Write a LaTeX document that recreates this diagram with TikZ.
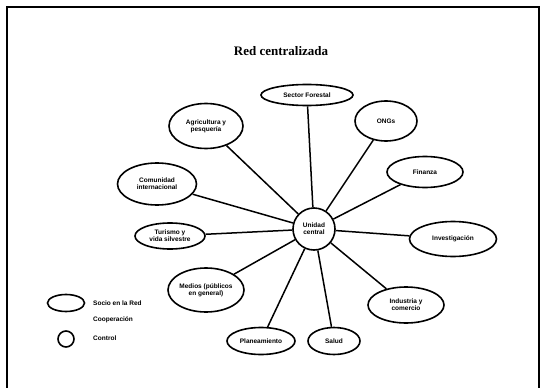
\documentclass[tikz,border=0pt]{standalone}
\usepackage{fontspec}
\setmainfont{Liberation Sans}
\newfontfamily\titlefont{Liberation Serif}
\usetikzlibrary{shapes.geometric}
\begin{document}
\begin{tikzpicture}[x=1pt,y=-1pt,
  partner/.style={draw,ellipse,line width=1.6pt,inner sep=0pt,align=center,
    font=\fontsize{6.5}{7.2}\selectfont\bfseries},
  hub/.style={draw,circle,line width=1.6pt,inner sep=0pt,minimum size=42pt,align=center,
    font=\fontsize{6.5}{7.2}\selectfont\bfseries},
  link/.style={line width=1.5pt},
  legendtext/.style={anchor=west,inner sep=0pt,font=\fontsize{6.5}{7.2}\selectfont\bfseries}]
\useasboundingbox (0,0) rectangle (541,388);
% open frame
\draw[line width=1.5pt] (7,392) -- (7,7) -- (539,7) -- (539,392);
% title
\node (title) at (281,51) {\titlefont\fontsize{13}{15}\selectfont\bfseries Red centralizada};
% central unit
\node[hub] (hub) at (314,229) {Unidad\\central};
% partners
\node[partner,minimum width=92pt,minimum height=21pt] (forestal) at (307,95) {Sector Forestal};
\node[partner,minimum width=74pt,minimum height=45pt] (agri) at (206,126) {Agricultura y\\pesquería};
\node[partner,minimum width=62pt,minimum height=40pt] (ong) at (386,121) {ONGs};
\node[partner,minimum width=76pt,minimum height=31pt] (finanza) at (425,172) {Finanza};
\node[partner,minimum width=87pt,minimum height=35pt] (invest) at (453,239) {Investigación};
\node[partner,minimum width=79pt,minimum height=42pt] (comunidad) at (157,184) {Comunidad\\internacional};
\node[partner,minimum width=70pt,minimum height=26pt] (turismo) at (170,236) {Turismo y\\vida silvestre};
\node[partner,minimum width=76pt,minimum height=44pt] (medios) at (206,290) {Medios (públicos\\en general)};
\node[partner,minimum width=68pt,minimum height=27pt] (plan) at (261,341) {Planeamiento};
\node[partner,minimum width=52pt,minimum height=27pt] (salud) at (334,341) {Salud};
\node[partner,minimum width=76pt,minimum height=36pt] (industria) at (406,305) {Industria y\\comercio};
% spokes
\foreach \n in {forestal,agri,ong,finanza,invest,comunidad,turismo,medios,plan,salud,industria}
  \draw[link] (hub) -- (\n);
% legend
\node[draw,ellipse,line width=1.6pt,minimum width=37pt,minimum height=17pt,inner sep=0pt] (lgpartner) at (66,303) {};
\node[legendtext] (lgpartnertext) at (93,303) {Socio en la Red};
\node[legendtext] (lgcoop) at (93,320) {Cooperación};
\node[draw,circle,line width=1.6pt,minimum size=16pt,inner sep=0pt] (lghub) at (66,339) {};
\node[legendtext] (lghubtext) at (93,338) {Control};
\end{tikzpicture}
\end{document}
